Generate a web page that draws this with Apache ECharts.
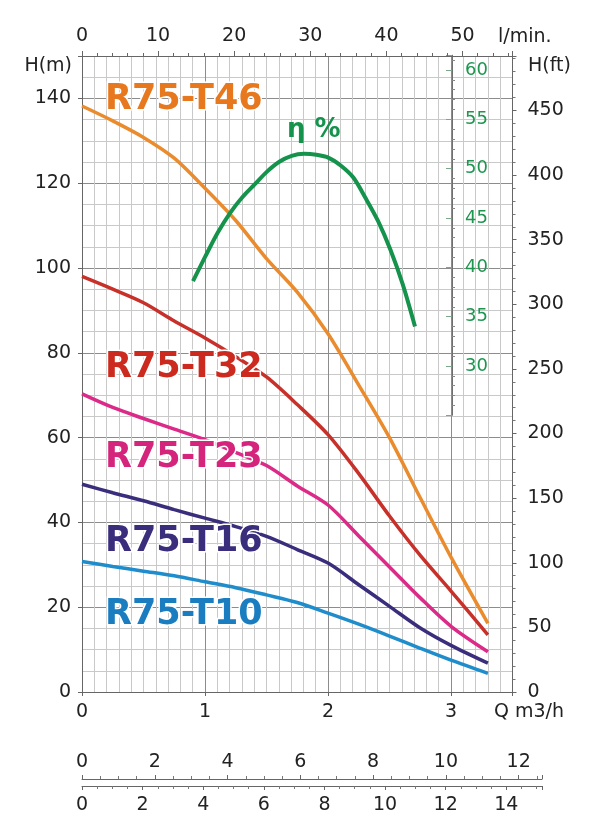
<!DOCTYPE html>
<html><head><meta charset="utf-8">
<script src="https://cdn.jsdelivr.net/npm/echarts@6/dist/echarts.min.js"></script>
<style>html,body{margin:0;padding:0;background:#fff}#c{width:600px;height:838px}</style>
</head><body><div id="c"></div>
<script>
// ---- data ----
const qPump = [0, 0.25, 0.5, 0.75, 1.0, 1.25, 1.5, 1.75, 2.0, 2.25, 2.5, 2.75, 3.0, 3.3];
const hT46 = [138.2, 134.7, 130.8, 125.9, 118.8, 111.2, 102.2, 94.3, 84.5, 72.4, 60.0, 45.8, 31.8, 16.2];
const hT32 = [98.0, 95.0, 91.8, 87.5, 83.5, 79.1, 74.3, 67.8, 60.7, 51.5, 41.5, 32.2, 23.8, 13.5];
const hT23 = [70.3, 67.1, 64.5, 62.0, 59.5, 56.5, 53.4, 48.6, 44.1, 36.8, 29.5, 22.2, 15.5, 9.5];
const hT16 = [49.0, 47.0, 45.1, 43.0, 41.0, 39.0, 36.7, 33.6, 30.4, 25.3, 20.2, 15.1, 11.0, 6.8];
const hT10 = [30.8, 29.6, 28.5, 27.4, 26.0, 24.6, 22.9, 21.1, 18.6, 16.0, 13.2, 10.3, 7.5, 4.4];
const qEff = [0.9, 1.0, 1.1, 1.2, 1.3, 1.4, 1.5, 1.6, 1.7, 1.8, 1.9, 2.0, 2.1, 2.2, 2.3, 2.4, 2.5, 2.6, 2.7];
const effPct = [38.6, 41.1, 43.5, 45.5, 47.1, 48.4, 49.7, 50.7, 51.3, 51.5, 51.4, 51.1, 50.3, 49.1, 47.0, 44.7, 41.8, 38.3, 34.0];
const seriesNames = ['R75-T46', 'R75-T32', 'R75-T23', 'R75-T16', 'R75-T10'];
const seriesHeads = [hT46, hT32, hT23, hT16, hT10];
const lineColors = ['#EA8C2E', '#C8302A', '#DC2A88', '#3A2D7C', '#1F8DCB'];
const labelColors = ['#E8781E', '#CC2A1E', '#D5247C', '#3A2D7C', '#1A7DC0'];
const qTickStep = 1, hTickStep = 20, ftTickStep = 50, lminTickStep = 10, effTickStep = 5;
const scaleAStep = 2, scaleBStep = 2;

// ---- layout ----
const L = 82, T = 56, W = 430.5, H = 636;
const FONT = '"DejaVu Sans"';
const isMult = (v, s) => Math.abs(v / s - Math.round(v / s)) < 1e-6;
const txt = '#222';
const pairs = (xs, ys) => xs.map((x, i) => [x, ys[i]]);

const lightG = '#c9c9c9', darkG = '#8c8c8c';
const xCols = [darkG].concat(Array(9).fill(lightG));
const yCols = [darkG, lightG, lightG, lightG];
const effRect = {left: L, top: 55.2, width: 370, height: 360.1};
const line = (c) => ({show: true, onZero: false, lineStyle: {color: c, width: 1}});
const noLine = {show: false, onZero: false};

const option = {
  animation: false,
  backgroundColor: '#fff',
  grid: [
    {left: L, top: T, width: W, height: H},
    Object.assign({}, effRect),
    {left: L, top: 779, width: 460, height: 1},
    {left: L, top: 785, width: 460, height: 1},
    Object.assign({}, effRect)
  ],
  xAxis: [
    {gridIndex: 0, type: 'value', position: 'bottom', min: 0, max: 3.5, interval: 0.1,
     axisLine: line('#666'), axisTick: {show: false}, axisLabel: {show: false},
     splitLine: {show: true, lineStyle: {color: xCols, width: 1}}},
    {gridIndex: 0, type: 'value', position: 'bottom', min: 0, max: 3.5, interval: qTickStep,
     axisLine: noLine, axisTick: {show: true, length: 4, lineStyle: {color: '#666'}},
     axisLabel: {show: true, margin: 11, color: txt, fontSize: 19, fontFamily: FONT,
       formatter: v => (isMult(v, qTickStep) && v <= 3) ? String(Math.round(v)) : ''},
     splitLine: {show: false}},
    {gridIndex: 0, type: 'value', position: 'top', min: 0, max: 56.57, interval: lminTickStep,
     axisLine: line('#666'), axisTick: {show: true, length: 5, lineStyle: {color: '#666'}},
     minorTick: {show: true, splitNumber: 5, length: 3, lineStyle: {color: '#666'}},
     axisLabel: {show: true, margin: 10, color: txt, fontSize: 19, fontFamily: FONT,
       formatter: v => isMult(v, lminTickStep) ? String(Math.round(v)) : ''},
     splitLine: {show: false}},
    {gridIndex: 1, type: 'value', position: 'bottom', min: 0, max: 3, show: false, axisLine: noLine},
    {gridIndex: 2, type: 'value', position: 'top', min: 0, max: 12.64, interval: scaleAStep,
     axisLine: line('#666'), axisTick: {show: true, length: 4, lineStyle: {color: '#666'}},
     minorTick: {show: true, splitNumber: 4, length: 3, lineStyle: {color: '#777'}},
     axisLabel: {show: true, margin: 7, color: txt, fontSize: 19, fontFamily: FONT,
       formatter: v => isMult(v, scaleAStep) ? String(Math.round(v)) : ''},
     splitLine: {show: false}},
    {gridIndex: 3, type: 'value', position: 'bottom', min: 0, max: 15.18, interval: scaleBStep,
     axisLine: line('#666'), axisTick: {show: true, length: 4, lineStyle: {color: '#666'}},
     minorTick: {show: true, splitNumber: 4, length: 3, lineStyle: {color: '#777'}},
     axisLabel: {show: true, margin: 10, color: txt, fontSize: 19, fontFamily: FONT,
       formatter: v => isMult(v, scaleBStep) ? String(Math.round(v)) : ''},
     splitLine: {show: false}},
    {gridIndex: 4, type: 'value', position: 'bottom', min: 0, max: 3, show: false, axisLine: noLine}
  ],
  yAxis: [
    {gridIndex: 0, type: 'value', position: 'left', min: 0, max: 150, interval: 5,
     axisLine: line('#666'), axisTick: {show: false}, axisLabel: {show: false},
     splitLine: {show: true, lineStyle: {color: yCols, width: 1}}},
    {gridIndex: 0, type: 'value', position: 'left', min: 0, max: 150, interval: hTickStep,
     axisLine: noLine, axisTick: {show: true, length: 4, lineStyle: {color: '#666'}},
     axisLabel: {show: true, margin: 11, color: txt, fontSize: 19, fontFamily: FONT,
       formatter: v => isMult(v, hTickStep) ? String(Math.round(v)) : ''},
     splitLine: {show: false}},
    {gridIndex: 0, type: 'value', position: 'right', min: 0, max: 150 * 3.28084, interval: ftTickStep,
     axisLine: line('#666'), axisTick: {show: true, length: 4, lineStyle: {color: '#666'}},
     minorTick: {show: true, splitNumber: 5, length: 3, lineStyle: {color: '#777'}},
     axisLabel: {show: true, margin: 15, color: txt, fontSize: 19, fontFamily: FONT,
       formatter: v => isMult(v, ftTickStep) ? String(Math.round(v)) : ''},
     splitLine: {show: false}},
    {gridIndex: 1, type: 'value', position: 'right', offset: 0, min: 25, max: 61.5, interval: effTickStep,
     axisLine: line('#6f6f6f'),
     axisTick: {show: true, inside: true, length: 6, lineStyle: {color: '#7aa98a'}},
     axisLabel: {show: true, margin: 13, color: '#1E9650', fontSize: 18, fontFamily: FONT,
       formatter: v => (isMult(v, effTickStep) && v >= 30) ? String(Math.round(v)) : ''},
     splitLine: {show: false}},
    {gridIndex: 2, type: 'value', show: false, axisLine: noLine},
    {gridIndex: 3, type: 'value', show: false, axisLine: noLine},
    {gridIndex: 4, type: 'value', position: 'right', offset: 0, min: 25, max: 61.5, interval: effTickStep,
     axisLine: noLine, axisTick: {show: false}, axisLabel: {show: false},
     minorTick: {show: true, splitNumber: 5, length: 3, lineStyle: {color: '#888'}},
     splitLine: {show: false}}
  ],
  series: seriesNames.map((n, i) => ({
    name: n, type: 'line', xAxisIndex: 0, yAxisIndex: 0,
    data: pairs(qPump, seriesHeads[i]), showSymbol: false, smooth: 0.3,
    lineStyle: {color: lineColors[i], width: 3.5}, z: 5
  })).concat([{
    name: 'η %', type: 'line', xAxisIndex: 3, yAxisIndex: 3,
    data: pairs(qEff, effPct), showSymbol: false, smooth: 0.3,
    lineStyle: {color: '#15924B', width: 4}, z: 6
  }]),
  graphic: [
    {type: 'text', x: 72, y: 66, style: {text: 'H(m)', font: '19px ' + FONT, fill: txt, align: 'right', verticalAlign: 'middle'}},
    {type: 'text', x: 498, y: 37, style: {text: 'l/min.', font: '19px ' + FONT, fill: txt, align: 'left', verticalAlign: 'middle'}},
    {type: 'text', x: 528, y: 66, style: {text: 'H(ft)', font: '19px ' + FONT, fill: txt, align: 'left', verticalAlign: 'middle'}},
    {type: 'text', x: 494, y: 712, style: {text: 'Q m3/h', font: '19px ' + FONT, fill: txt, align: 'left', verticalAlign: 'middle'}},
    {type: 'text', x: 287, y: 130, z: 20, style: {text: 'η %', font: 'bold 26px ' + FONT, fill: '#15924B', align: 'left', verticalAlign: 'middle'}}
  ].concat(seriesNames.map((n, i) => ({
    type: 'text', x: 105, y: [100, 368, 458, 542, 615][i], z: 20,
    style: {text: n, font: 'bold 35px ' + FONT, fill: labelColors[i], stroke: '#fff', lineWidth: 3,
      align: 'left', verticalAlign: 'middle'}
  })))
};
const chart = echarts.init(document.getElementById('c'), null, {renderer: 'canvas'});
chart.setOption(option);
</script></body></html>
